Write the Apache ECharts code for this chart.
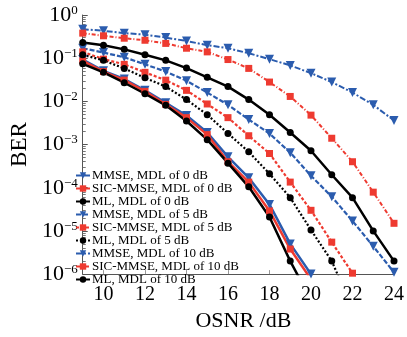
<!DOCTYPE html>
<html><head><meta charset="utf-8">
<script src="https://cdn.jsdelivr.net/npm/echarts@6/dist/echarts.min.js"></script>
<style>html,body{margin:0;padding:0;background:#fff}#c{width:407px;height:337px}</style>
</head><body><div id="c"></div>
<script>
var osnr = [9,10,11,12,13,14,15,16,17,18,19,20,21,22,23,24];
var xTicks = [10,12,14,16,18,20,22,24];
var names = ['MMSE, MDL of 0 dB','SIC-MMSE, MDL of 0 dB','ML, MDL of 0 dB',
  'MMSE, MDL of 5 dB','SIC-MMSE, MDL of 5 dB','ML, MDL of 5 dB',
  'MMSE, MDL of 10 dB','SIC-MMSE, MDL of 10 dB','ML, MDL of 10 dB'];
var mmse0 = [9.3e-2,5.1e-2,3.3e-2,1.8e-2,9.3e-3,4.7e-3,1.9e-3,5.2e-4,1.7e-4,4.1e-5,5.0e-6,1.0e-6];
var sic0  = [8.7e-2,4.9e-2,3.1e-2,1.7e-2,8.5e-3,4.2e-3,1.7e-3,4.0e-4,1.35e-4,2.9e-5,3.8e-6,7.6e-7];
var ml0   = [7.4e-2,4.7e-2,2.7e-2,1.5e-2,8.1e-3,3.5e-3,1.3e-3,3.7e-4,1.05e-4,2.1e-5,2.0e-6,2.5e-7];
var mmse5 = [0.17,0.135,0.105,7.2e-2,4.9e-2,3.0e-2,1.6e-2,8.3e-3,3.8e-3,1.8e-3,6.5e-4,1.9e-4,6.2e-5,1.7e-5,4.4e-6,1.1e-6];
var sic5  = [0.14,9.5e-2,7.2e-2,4.7e-2,3.1e-2,1.8e-2,8.7e-3,4.2e-3,1.6e-3,6.2e-4,1.35e-4,3.0e-5,5.5e-6,1.05e-6];
var ml5   = [0.12,8.9e-2,5.8e-2,3.5e-2,2.2e-2,1.1e-2,4.9e-3,1.8e-3,6.8e-4,2.1e-4,5.9e-5,1.05e-5,2.0e-6,1.6e-7];
var mmse10= [0.47,0.43,0.38,0.35,0.30,0.25,0.20,0.17,0.13,9.5e-2,6.8e-2,4.5e-2,2.8e-2,1.6e-2,8.3e-3,3.6e-3];
var sic10 = [0.38,0.33,0.29,0.26,0.22,0.17,0.14,9.3e-2,5.8e-2,2.8e-2,1.3e-2,4.8e-3,1.4e-3,4.0e-4,7.9e-5,1.5e-5];
var ml10  = [0.23,0.20,0.16,0.12,8.9e-2,5.9e-2,3.6e-2,2.2e-2,1.1e-2,4.9e-3,1.9e-3,7.2e-4,2.0e-4,5.9e-5,1.0e-5,2.0e-6];

var BLUE = '#2b5cae', RED = '#ee3a30', BLACK = '#000';
function pairs(v){ return v.map(function(y,i){ return [osnr[i], y]; }); }
function mk(name, data, color, kind, dash, width){
  var sym = kind === 't' ? 'triangle' : (kind === 's' ? 'rect' : 'circle');
  return {
    name: name, type: 'line', data: pairs(data), clip: true,
    symbol: sym, symbolRotate: kind === 't' ? 180 : 0,
    symbolSize: kind === 't' ? 9 : 7,
    itemStyle: { color: color },
    lineStyle: { color: color, width: width, type: dash },
    z: 2
  };
}
var series = [
  mk(names[0], mmse0, BLUE, 't', 'solid', 2.5),
  mk(names[1], sic0, RED, 's', 'solid', 2.5),
  mk(names[2], ml0, BLACK, 'c', 'solid', 2.5),
  mk(names[3], mmse5, BLUE, 't', [5,2], 2.2),
  mk(names[4], sic5, RED, 's', [3,2], 2.2),
  mk(names[5], ml5, BLACK, 'c', [2,2], 2.2),
  mk(names[6], mmse10, BLUE, 't', [6,2,2,2], 2),
  mk(names[7], sic10, RED, 's', [4,2,1,2], 2),
  mk(names[8], ml10, BLACK, 'c', 'solid', 2.5)
];
var FONT = 'Liberation Serif';
var chart = echarts.init(document.getElementById('c'));
chart.setOption({
  animation: false,
  backgroundColor: '#fff',
  grid: { left: 67, right: 10, top: 15, bottom: 51, containLabel: false },
  legend: {
    orient: 'vertical', left: 70, top: 164,
    itemWidth: 14, itemHeight: 8, itemGap: 0,
    data: names,
    textStyle: { fontFamily: FONT, fontSize: 13, color: '#000', lineHeight: 13, padding: [0,0,0,-3] }
  },
  xAxis: {
    type: 'value', min: 9, max: 24,
    name: 'OSNR /dB', nameLocation: 'middle', nameGap: 29,
    nameTextStyle: { fontFamily: FONT, fontSize: 22, color: '#000', padding: [0,0,0,10] },
    axisLine: { show: true, lineStyle: { color: '#555', width: 1 } },
    axisTick: { show: true, inside: true, length: 4, customValues: xTicks, lineStyle: { color: '#999' } },
    axisLabel: { customValues: xTicks, fontFamily: FONT, fontSize: 20, color: '#000', margin: 11 },
    splitLine: { show: false }
  },
  yAxis: {
    type: 'log', logBase: 10, min: 1e-6, max: 1,
    name: 'BER', nameLocation: 'middle', nameGap: 37,
    nameTextStyle: { fontFamily: FONT, fontSize: 23, color: '#000' },
    axisLine: { show: true, lineStyle: { color: '#555', width: 1 } },
    axisTick: { show: true, inside: true, length: 5, lineStyle: { color: '#555' } },
    minorTick: { show: true, splitNumber: 9, length: 3, lineStyle: { color: '#777' } },
    axisLabel: {
      margin: 5, align: 'right',
      formatter: function(v){
        var e = Math.round(Math.log10(v));
        var s = e < 0 ? '\u2212' + (-e) : String(e);
        return '{b|10}{s|' + s + '}';
      },
      rich: {
        b: { fontFamily: FONT, fontSize: 22, color: '#000' },
        s: { fontFamily: FONT, fontSize: 13, color: '#000', verticalAlign: 'top', lineHeight: 12 }
      }
    },
    splitLine: { show: false }
  },
  series: series
});
</script></body></html>
